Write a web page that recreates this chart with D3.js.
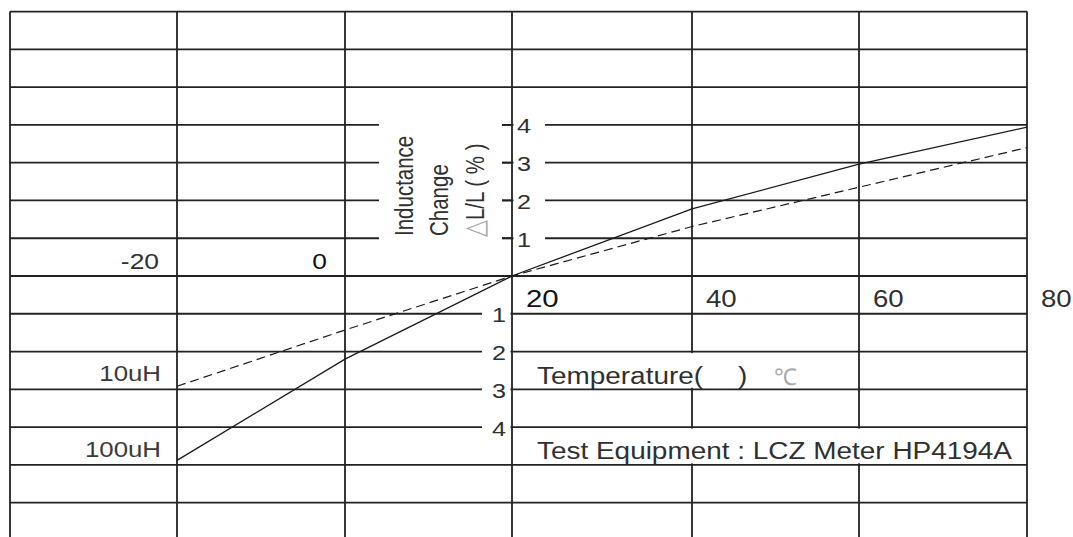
<!DOCTYPE html>
<html><head><meta charset="utf-8">
<script src="https://cdn.jsdelivr.net/npm/d3@7"></script>
<style>body{margin:0;background:#fff}svg{display:block;background:#fff}text{font-family:"Liberation Sans",Arial,Helvetica,sans-serif}</style>
</head><body><svg id="c" width="1073" height="537"></svg>
<script>
// ---- data ----
const temps = [-20, 0, 20, 40, 60, 80];
const l100 = [-4.88, -2.2, 0, 1.78, 2.96, 3.94];   // 100uH (solid)
const l10  = [-2.92, -1.43, 0, 1.31, 2.35, 3.40];  // 10uH (dashed)
const gridTemps = [-40, -20, 0, 20, 40, 60, 80];
const gridLevels = d3.range(-7, 8);
const yTicksUp = [1, 2, 3, 4];
const yTicksDown = [-1, -2, -3, -4];
const xLabelsLeft = [-20, 0];
const xLabelsRight = [20, 40, 60, 80];
const seriesNames = ["10uH", "100uH"];
const seriesRows = [-3, -5];
const yTitle = ["Inductance", "Change", "L/L ( % )"];
const xTitle = "Temperature(";
const note = "Test Equipment : LCZ Meter HP4194A";

// ---- setup ----
const W = 1073, H = 537, SX = 1.2;
const svg = d3.select("#c");
const x = d3.scaleLinear().domain(gridTemps).range([10, 177, 345, 512, 692, 859, 1027]);
const y = d3.scaleLinear().domain([-7, 7]).range([540.4, 11.6]);
const ink = "#222";
const ax = x(20);

function txt(px, py, s, o = {}) {
  const sx = o.sx || SX;
  const t = svg.append("text")
    .attr("transform", `translate(${px},${py}) scale(${sx},1)` + (o.rot ? " rotate(-90)" : ""))
    .attr("font-size", o.size || 20)
    .attr("fill", o.fill || "#303030")
    .attr("text-anchor", o.anchor || "start")
    .text(s);
  if (o.weight) t.attr("font-weight", o.weight);
  return t;
}

// ---- grid ----
const grid = svg.append("g").attr("stroke", ink).attr("stroke-width", 1.8);
grid.selectAll(".v").data(gridTemps).join("line")
  .attr("x1", d => x(d)).attr("x2", d => x(d))
  .attr("y1", y(7)).attr("y2", H + 5);
grid.selectAll(".h").data(gridLevels).join("line")
  .attr("x1", x(-40)).attr("x2", x(80))
  .attr("y1", d => y(d)).attr("y2", d => y(d));

// label backgrounds (gaps in grid)
const bg = svg.append("g").attr("fill", "#fff");
bg.append("rect").attr("x", x(0) + 34).attr("y", y(4) - 9)
  .attr("width", ax - 10 - (x(0) + 34)).attr("height", y(1) - y(4) + 18);
bg.selectAll(".tu").data(yTicksUp).join("rect")
  .attr("x", ax + 1.5).attr("y", d => y(d) - 9).attr("width", 31.5).attr("height", 18);
bg.selectAll(".td").data(yTicksDown).join("rect")
  .attr("x", ax - 30).attr("y", d => y(d) - 10).attr("width", 28.5).attr("height", 20);
bg.append("rect").attr("x", ax + 8).attr("y", y(-2) + 1.5)
  .attr("width", 800 - ax - 8).attr("height", y(-3) - y(-2) - 3);
bg.append("rect").attr("x", ax + 8).attr("y", y(-4) + 1.5)
  .attr("width", x(80) - 3 - ax - 8).attr("height", y(-5) - y(-4) - 3);

// y ticks above zero
svg.append("g").attr("stroke", ink).attr("stroke-width", 1.8)
  .selectAll("line").data(yTicksUp).join("line")
  .attr("x1", ax - 10).attr("x2", ax).attr("y1", d => y(d)).attr("y2", d => y(d));

// ---- curves ----
const line = d3.line().x(d => x(d[0])).y(d => y(d[1]));
svg.append("path").datum(temps.map((t, i) => [t, l100[i]]))
  .attr("d", line).attr("fill", "none").attr("stroke", "#1a1a1a").attr("stroke-width", 1.3);
svg.append("path").datum(temps.map((t, i) => [t, l10[i]]))
  .attr("d", line).attr("fill", "none").attr("stroke", "#1a1a1a").attr("stroke-width", 1.2)
  .attr("stroke-dasharray", "9,5");

// ---- texts ----
yTicksUp.forEach(d => txt(ax + 5, y(d) + 8.5, String(d), {size: 21}));
yTicksDown.forEach(d => txt(ax - 13, y(d) + 8.5, String(Math.abs(d)), {size: 21, anchor: "middle"}));

xLabelsLeft.forEach((d, i) => {
  txt(x(d) - 18, 268.5, String(d), {size: 22, anchor: "end", fill: i ? "#111" : "#303030"});
});
xLabelsRight.forEach((d, i) => {
  txt(x(d) + 14, 306.5, String(d), {size: i ? 23 : 24.5, fill: i ? "#303030" : "#111"});
});

// series labels
seriesNames.forEach((s, i) => {
  txt(x(-20) - 16, y(seriesRows[i]) - 8, s, {size: 21.5, anchor: "end", fill: "#3a3a3a"});
});

// y title (rotated, three lines)
txt(413, 236, yTitle[0], {size: 20.5, rot: true, sx: 1.3});
txt(448, 236, yTitle[1], {size: 20.5, rot: true, sx: 1.3});
const t3 = txt(484, 237, "", {size: 20.5, rot: true, sx: 1.3});
t3.append("tspan").attr("fill", "#aaa").attr("font-family", "DejaVu Sans").attr("font-size", 22).text("\u25B3");
t3.append("tspan").text(yTitle[2]);

// x title
txt(ax + 25, 384, xTitle, {size: 24.5, sx: 1.14});
txt(738, 384, ")", {size: 24.5, sx: 1.14});
txt(774, 385, "\u2103", {size: 23, fill: "#aaa", sx: 1.0});
// note
txt(ax + 25, 459, note, {size: 24.5, sx: 1.14});
</script>
</body></html>
